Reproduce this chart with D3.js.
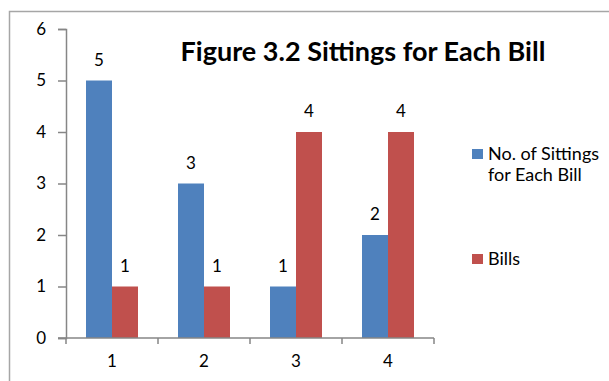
<!DOCTYPE html>
<html>
<head>
<meta charset="utf-8">
<script src="https://cdn.jsdelivr.net/npm/d3@7"></script>
<style>
  body { margin: 0; background: #fff; }
  text { font-family: Lato, "Liberation Sans", sans-serif; }
</style>
</head>
<body>
<div id="container"></div>
<script>
let categories = ["1", "2", "3", "4"];
let sittings = [5, 3, 1, 2];
let bills = [1, 1, 4, 4];
let yTicks = [0, 1, 2, 3, 4, 5, 6];
let seriesNames = ["No. of Sittings for Each Bill", "Bills"];
let colors = ["#4F81BD", "#C0504D"];

let w = 609;
let h = 381;

let viz = d3.select("#container")
  .append("svg")
    .attr("width", w)
    .attr("height", h)
;

// outer chart frame (runs off right/bottom)
viz.append("rect")
    .attr("x", 9.5)
    .attr("y", 11.5)
    .attr("width", 640)
    .attr("height", 400)
    .attr("fill", "none")
    .attr("stroke", "#a6a6a6")
    .attr("stroke-width", 1.5)
;

let xScale = d3.scaleBand().domain(categories).range([66, 434]);
let yScale = d3.scaleLinear().domain([0, 6]).range([338, 29]);

let groups = [sittings, bills];
let inner = d3.scaleBand().domain([0, 1]).range([0, 52]);
let offset = (xScale.bandwidth() - 52) / 2;

// bars
groups.forEach(function(vals, s){
  viz.selectAll(".bar" + s)
    .data(vals)
    .enter()
    .append("rect")
      .attr("x", function(d, i){ return xScale(categories[i]) + offset + inner(s); })
      .attr("y", function(d){ return yScale(d); })
      .attr("width", inner.bandwidth())
      .attr("height", function(d){ return yScale(0) - yScale(d); })
      .attr("fill", colors[s])
  ;
  viz.selectAll(".lab" + s)
    .data(vals)
    .enter()
    .append("text")
      .attr("x", function(d, i){ return xScale(categories[i]) + offset + inner(s) + inner.bandwidth() / 2; })
      .attr("y", function(d){ return yScale(d) - 15; })
      .attr("text-anchor", "middle")
      .attr("font-size", 17)
      .attr("fill", "#000")
      .text(function(d){ return d; })
  ;
});

// y axis
let yAxis = d3.axisLeft(yScale).tickValues(yTicks).tickFormat(d3.format("d")).tickSize(8).tickPadding(12);
let yAxisGroup = viz.append("g")
    .attr("transform", "translate(66,0)")
    .call(yAxis)
;

// x axis
let xAxis = d3.axisBottom(xScale).tickSize(0).tickPadding(17);
let xAxisGroup = viz.append("g")
    .attr("transform", "translate(0,338)")
    .call(xAxis)
;
// boundary ticks
let bounds = categories.map(function(c){ return xScale(c); }).concat([434]);
xAxisGroup.selectAll(".btick")
  .data(bounds)
  .enter()
  .append("line")
    .attr("x1", function(d){ return d; })
    .attr("x2", function(d){ return d; })
    .attr("y1", 0)
    .attr("y2", 6)
    .attr("stroke", "#868686")
    .attr("stroke-width", 1.5)
;
xAxisGroup.select(".domain").attr("d", "M58,0H434");

[yAxisGroup, xAxisGroup].forEach(function(g){
  g.selectAll(".domain").attr("stroke", "#868686").attr("stroke-width", 1.5);
  g.selectAll(".tick line").attr("stroke", "#868686").attr("stroke-width", 1.5);
  g.selectAll(".tick text").attr("font-size", 17).attr("fill", "#000")
    .style("font-family", "Lato, 'Liberation Sans', sans-serif");
});

// title
viz.append("text")
    .attr("x", 363)
    .attr("y", 61)
    .attr("text-anchor", "middle")
    .attr("font-size", 27)
    .attr("font-weight", "bold")
    .attr("fill", "#000")
    .text("Figure 3.2 Sittings for Each Bill")
;

// legend
let legendY = [149, 254];
let legendLines = [["No. of Sittings", "for Each Bill"], ["Bills"]];
legendY.forEach(function(y, i){
  viz.append("rect")
      .attr("x", 472)
      .attr("y", y)
      .attr("width", 11)
      .attr("height", 10)
      .attr("fill", colors[i])
  ;
  legendLines[i].forEach(function(line, j){
    viz.append("text")
        .attr("x", 488)
        .attr("y", y + 11 + j * 21)
        .attr("font-size", 18)
        .attr("fill", "#000")
        .text(line)
    ;
  });
});
</script>
</body>
</html>
